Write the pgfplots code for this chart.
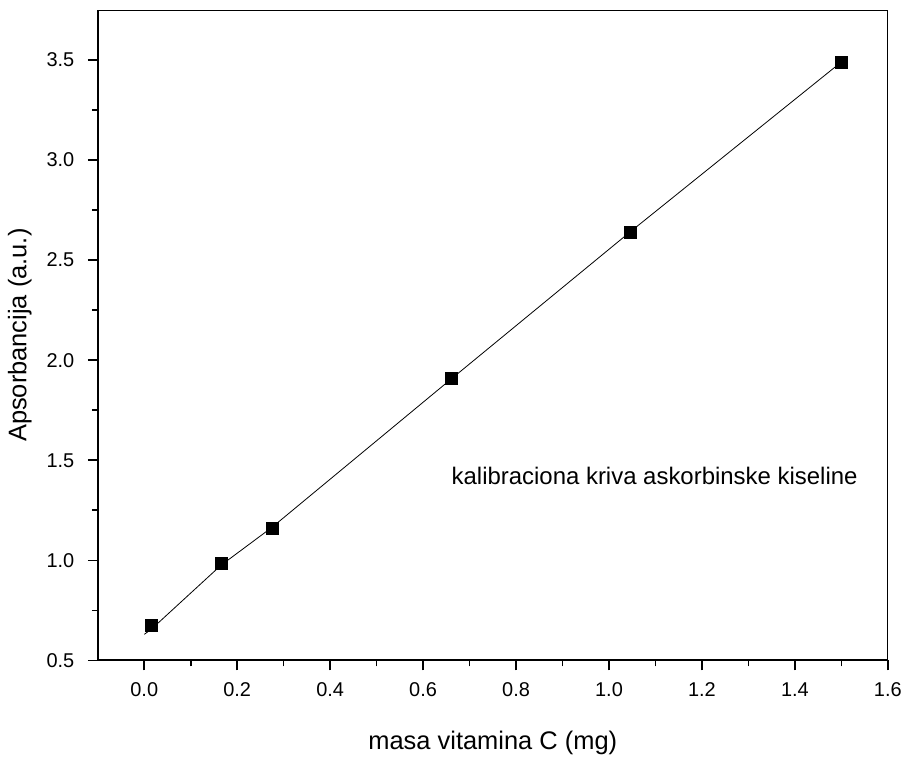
\documentclass[border=0pt]{standalone}
\usepackage{fontspec}
\setmainfont{Liberation Sans}
\usepackage{pgfplots}
\pgfplotsset{compat=1.18}
\begin{document}
\begin{tikzpicture}
\begin{axis}[
  scale only axis,
  width=792bp, height=652bp,
  xmin=-0.1, xmax=1.6,
  ymin=0.5, ymax=3.75,
  xtick={0,0.2,...,1.6},
  ytick={0.5,1.0,...,3.5},
  minor x tick num=1,
  minor y tick num=1,
  xtick pos=left, ytick pos=left,
  tick align=outside,
  major tick length=10bp,
  minor tick length=6bp,
  every tick/.style={line width=1.6bp, black},
  every minor tick/.style={line width=1.6bp, black},
  axis line style={line width=0.8bp},
  /pgf/number format/assume math mode=true,
  xticklabel={\pgfmathprintnumber[fixed,fixed zerofill,precision=1]{\tick}},
  yticklabel={\pgfmathprintnumber[fixed,fixed zerofill,precision=1]{\tick}},
  ticklabel style={font=\fontsize{20bp}{24bp}\selectfont},
  xticklabel style={yshift=-9bp},
  yticklabel style={xshift=-10bp},
  xlabel={masa vitamina C (mg)},
  ylabel={Apsorbancija (a.u.)},
  label style={font=\fontsize{25.5bp}{29bp}\selectfont},
  xlabel style={yshift=-27bp},
  ylabel style={yshift=8bp},
  clip=false,
]
\path (rel axis cs:0,0) ++(-98bp,-89bp) coordinate (bbsw);
\path (rel axis cs:1,1) ++(15bp,10bp) coordinate (bbne);
\draw[line width=2bp] (rel axis cs:0,0) -- (rel axis cs:1,0);
\draw[line width=2bp] (rel axis cs:0,0) -- (rel axis cs:0,1);
\addplot[black, line width=0.8bp, no marks] coordinates {
  (0.0,0.63) (0.015,0.655) (0.165,0.975) (0.275,1.165) (0.66,1.905) (1.045,2.64) (1.5,3.49)
};
\addplot[only marks, mark=square*, mark size=6bp, black] coordinates {
  (0.015,0.675) (0.165,0.985) (0.275,1.16) (0.66,1.91) (1.045,2.64) (1.5,3.49)
};
\node[font=\fontsize{24bp}{28bp}\selectfont, anchor=west] at (axis cs:0.654,1.42) {kalibraciona kriva askorbinske kiseline};
\end{axis}
\end{tikzpicture}
\end{document}
